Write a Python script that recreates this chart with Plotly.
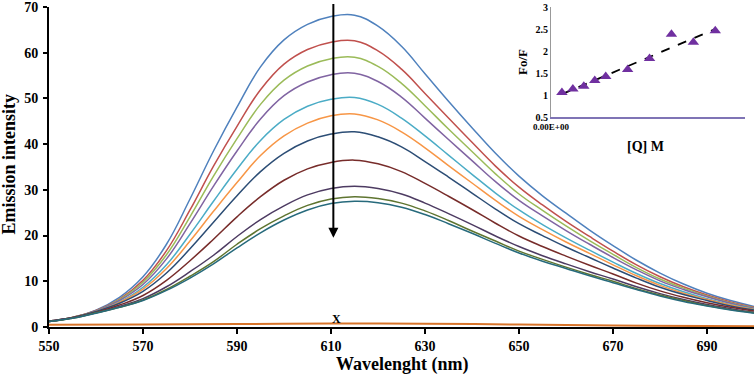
import plotly.graph_objects as go

# emission spectra, every 5 nm
wl = list(range(550, 701, 5))

em_q0 = [1.2, 2.1, 3.7, 6.5, 11.0, 18.1, 28.0, 38.5, 48.1, 56.9, 62.8, 66.2, 67.9, 68.2, 65.8, 61.4,
         55.4, 49.4, 43.6, 38.0, 33.0, 28.7, 24.9, 21.2, 17.8, 14.6, 11.8, 9.4, 7.4, 5.8, 4.5]
em_q1 = [1.2, 2.1, 3.6, 6.1, 10.2, 16.7, 25.6, 35.2, 43.9, 51.9, 57.5, 60.7, 62.3, 62.6, 60.4, 56.4,
         51.1, 45.7, 40.4, 35.2, 30.6, 26.7, 23.1, 19.8, 16.6, 13.6, 11.0, 8.8, 7.0, 5.5, 4.3]
em_q2 = [1.2, 2.1, 3.5, 6.0, 9.8, 15.8, 24.1, 33.0, 41.2, 48.7, 54.0, 57.1, 58.7, 59.0, 57.0, 53.3,
         48.4, 43.3, 38.4, 33.5, 29.1, 25.5, 22.1, 18.9, 15.9, 13.0, 10.5, 8.5, 6.8, 5.3, 4.2]
em_q3 = [1.2, 2.0, 3.5, 5.8, 9.3, 14.9, 22.6, 30.8, 38.5, 45.5, 50.6, 53.6, 55.2, 55.5, 53.7, 50.3,
         45.7, 41.0, 36.4, 31.8, 27.7, 24.3, 21.1, 18.1, 15.2, 12.5, 10.1, 8.2, 6.6, 5.2, 4.1]
em_q4 = [1.2, 2.0, 3.4, 5.5, 8.7, 13.6, 20.3, 27.5, 34.5, 40.8, 45.4, 48.3, 49.8, 50.2, 48.7, 45.7,
         41.8, 37.6, 33.4, 29.3, 25.6, 22.4, 19.5, 16.8, 14.2, 11.7, 9.5, 7.7, 6.2, 4.9, 3.9]
em_q5 = [1.3, 2.1, 3.4, 5.4, 8.3, 12.8, 18.8, 25.3, 31.6, 37.5, 41.8, 44.6, 46.2, 46.6, 45.3, 42.7,
         39.2, 35.3, 31.5, 27.7, 24.2, 21.3, 18.6, 16.1, 13.6, 11.2, 9.1, 7.4, 6.0, 4.8, 3.8]
em_q6 = [1.3, 2.1, 3.4, 5.2, 7.8, 11.8, 17.1, 22.9, 28.7, 34.0, 38.0, 40.7, 42.2, 42.7, 41.6, 39.4,
         36.2, 32.8, 29.3, 25.8, 22.6, 20.0, 17.5, 15.2, 12.9, 10.7, 8.7, 7.1, 5.8, 4.6, 3.7]
em_q7 = [1.2, 2.0, 3.2, 4.8, 6.9, 10.2, 14.5, 19.2, 24.1, 28.5, 32.1, 34.6, 36.0, 36.5, 35.7, 34.0,
         31.4, 28.6, 25.7, 22.7, 19.9, 17.6, 15.5, 13.5, 11.6, 9.6, 7.9, 6.5, 5.3, 4.3, 3.5]
em_q8 = [1.3, 2.0, 3.1, 4.5, 6.2, 8.8, 12.1, 15.7, 19.8, 23.5, 26.5, 28.9, 30.3, 30.8, 30.3, 29.1,
         27.1, 24.8, 22.4, 19.9, 17.6, 15.6, 13.8, 12.1, 10.5, 8.8, 7.3, 6.0, 4.9, 4.0, 3.2]
em_q9 = [1.2, 1.9, 3.1, 4.3, 5.9, 8.2, 11.1, 14.3, 18.1, 21.5, 24.3, 26.6, 28.0, 28.5, 28.1, 27.1,
         25.4, 23.3, 21.0, 18.8, 16.6, 14.8, 13.1, 11.5, 10.0, 8.4, 7.0, 5.8, 4.7, 3.8, 3.1]
em_q10 = [1.2, 1.9, 3.0, 4.3, 5.8, 8.0, 10.7, 13.8, 17.3, 20.6, 23.4, 25.6, 27.0, 27.5, 27.2, 26.2,
          24.6, 22.6, 20.5, 18.3, 16.2, 14.4, 12.8, 11.2, 9.7, 8.2, 6.8, 5.6, 4.6, 3.7, 3.0]

# quencher alone ("X")
wl_x = [550, 570, 590, 610, 630, 650, 670, 690, 700]
em_x = [0.5, 0.55, 0.65, 0.75, 0.7, 0.55, 0.35, 0.2, 0.15]

colors = ["#4F81BD", "#C0504D", "#9BBB59", "#8064A2", "#4BACC6", "#F79646",
          "#2C4D75", "#772C2A", "#4D3B62", "#5F7530", "#276A7C"]

# Stern-Volmer inset
q_conc = [1e-6, 2e-6, 3e-6, 4e-6, 5e-6, 7e-6, 9e-6, 11e-6, 13e-6, 15e-6]
f0_f = [1.06, 1.14, 1.2, 1.33, 1.42, 1.58, 1.83, 2.38, 2.2, 2.46]
fit_x = [1e-6, 15e-6]
fit_y = [1.02, 2.5]

serif = "Liberation Serif"
bold = dict(family=serif, weight="bold", color="black")

fig = go.Figure()
spectra = [em_q0, em_q1, em_q2, em_q3, em_q4, em_q5, em_q6, em_q7, em_q8, em_q9, em_q10]
for i, ys in enumerate(spectra):
    fig.add_trace(go.Scatter(x=wl, y=ys, mode="lines",
                             line=dict(color=colors[i], width=1.5, shape="spline", smoothing=1.2),
                             showlegend=False, hoverinfo="skip"))
fig.add_trace(go.Scatter(x=wl_x, y=em_x, mode="lines", line=dict(color="#D8742A", width=2, shape="spline"),
                         showlegend=False))

fig.add_trace(go.Scatter(x=fit_x, y=fit_y, mode="lines", xaxis="x2", yaxis="y2",
                         line=dict(color="black", width=1.8, dash="dash"), showlegend=False))
fig.add_trace(go.Scatter(x=q_conc, y=f0_f, mode="markers", xaxis="x2", yaxis="y2",
                         marker=dict(symbol="triangle-up", size=10, color="#7030A0"), showlegend=False))

fig.update_layout(
    width=755, height=382,
    margin=dict(l=49, r=1, t=7, b=55, autoexpand=False),
    paper_bgcolor="white", plot_bgcolor="white",
    font=dict(family=serif, color="black"),
    xaxis=dict(range=[550, 700], tickvals=list(range(550, 700, 20)), showgrid=False, zeroline=False,
               showline=True, linecolor="black", linewidth=2, ticks="outside", ticklen=5, tickwidth=2,
               tickcolor="black", tickfont=dict(size=14, **bold), automargin=False,
               ticklabeloverflow="allow"),
    yaxis=dict(range=[0, 70], dtick=10, showgrid=False, zeroline=False,
               showline=True, linecolor="black", linewidth=2, ticks="outside", ticklen=4, tickwidth=2,
               tickcolor="black", tickfont=dict(size=14, **bold), automargin=False,
               ticklabeloverflow="allow", ticklabelstandoff=2),
    xaxis2=dict(domain=[0.712, 0.987], anchor="y2", range=[0, 17.7e-6], tickvals=[0], ticktext=["0.00E+00"],
                showgrid=False, zeroline=False, showline=True, linecolor="#7F74B5", linewidth=1.5,
                tickfont=dict(size=9, **bold), automargin=False),
    yaxis2=dict(domain=[0.656, 1.0], anchor="x2", range=[0.5, 3], dtick=0.5, showgrid=False, zeroline=False,
                showline=True, linecolor="#999999", linewidth=1, automargin=False,
                tickfont=dict(size=10, **bold),
                title=dict(text="Fo/F", font=dict(size=13, **bold), standoff=4)),
)

fig.add_annotation(x=610.5, y=19.5, ax=610.5, ay=71, xref="x", yref="y", axref="x", ayref="y",
                   showarrow=True, arrowhead=2, arrowsize=1, arrowwidth=2, arrowcolor="black", text="")
fig.add_annotation(x=611.2, y=1.7, xref="x", yref="y", text="X", showarrow=False, font=dict(size=12, **bold))

# axis titles placed directly
fig.add_annotation(x=0.502, y=-0.116, xref="paper", yref="paper", text="Wavelenght (nm)", showarrow=False,
                   xanchor="center", yanchor="middle", font=dict(size=18, **bold))
fig.add_annotation(x=-0.057, y=0.51, xref="paper", yref="paper", text="Emission intensity", showarrow=False,
                   textangle=-90, xanchor="center", yanchor="middle", font=dict(size=18, **bold))
fig.add_annotation(x=0.8455, y=0.565, xref="paper", yref="paper", text="[Q] M", showarrow=False,
                   xanchor="center", yanchor="middle", font=dict(size=14, **bold))

# page body has a default 8px margin; drop it so the figure fills the window
fig.write_html("out.html", config={"displayModeBar": False},
               post_script="document.body.style.margin='0';")
